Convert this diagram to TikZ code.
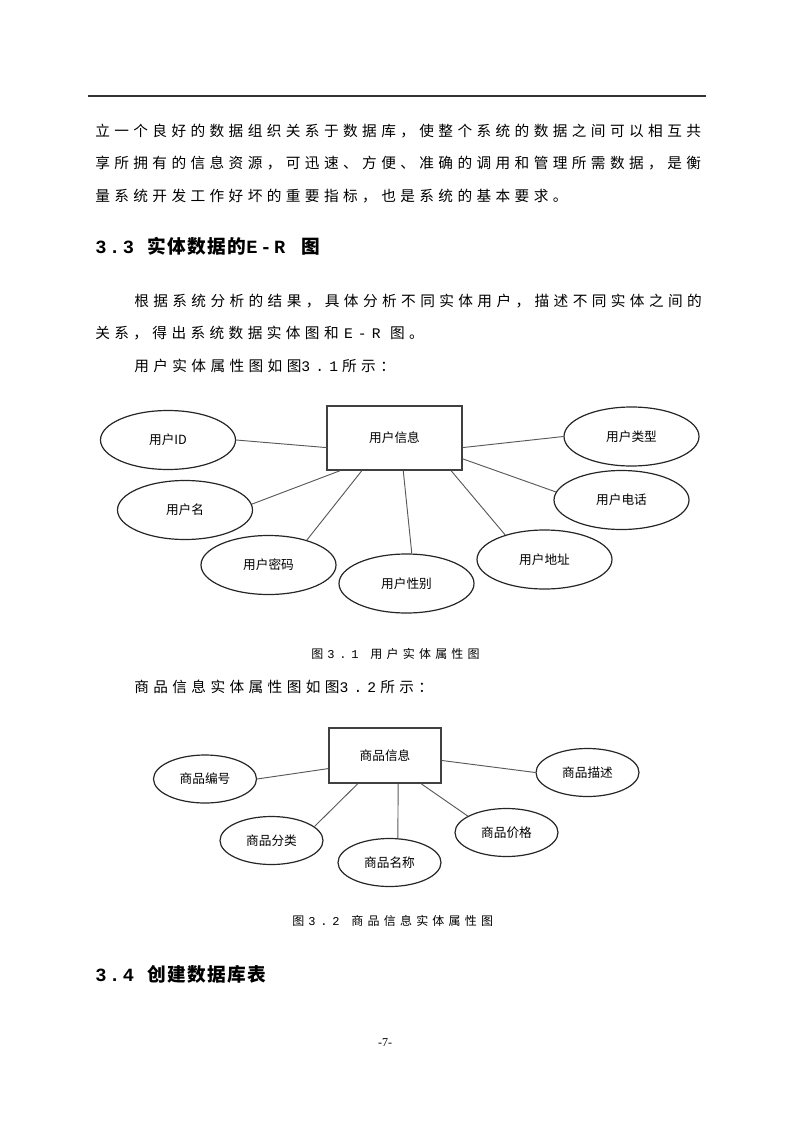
\documentclass[tikz,border=0pt]{standalone}
\usepackage{fontspec}
\usepackage{xcolor}
\usetikzlibrary{shapes.geometric}
\setmainfont{Noto Sans CJK SC}
\newfontfamily\bodyfont{Noto Sans CJK SC}[LetterSpace=30]
\newfontfamily\capfont{Noto Sans CJK SC}[LetterSpace=35]
\newfontfamily\headfont{Noto Sans CJK SC}[LetterSpace=7]
\newfontfamily\bodyascii{Liberation Mono}[LetterSpace=35]
\newfontfamily\capascii{Liberation Mono}[LetterSpace=40]
\newfontfamily\headascii{Liberation Mono}[LetterSpace=14]
\newfontfamily\erfont{Noto Sans CJK SC}
\newfontfamily\pagefont{Liberation Serif}
\newcommand\asc{}
\tikzset{
  body/.style={anchor=west,inner sep=0pt,font=\let\asc\bodyascii\bodyfont\fontsize{11pt}{13pt}\selectfont},
  figcaption/.style={anchor=west,inner sep=0pt,font=\let\asc\capascii\capfont\fontsize{9pt}{11pt}\selectfont},
  head/.style={anchor=west,inner sep=0pt,font=\let\asc\headascii\headfont\bfseries\fontsize{14pt}{16pt}\selectfont},
  entity/.style={rectangle,draw=black!75,line width=1pt,inner sep=0pt,font=\erfont\fontsize{9.5pt}{11pt}\selectfont},
  attr/.style={ellipse,draw=black!85,line width=0.9pt,inner sep=0pt,minimum width=101.25pt,minimum height=44.25pt,font=\erfont\fontsize{9.5pt}{11pt}\selectfont},
  attrs/.style={attr,minimum width=77.25pt,minimum height=36pt},
  link/.style={draw=black!65,line width=0.7pt}
}
\begin{document}
\begin{tikzpicture}[x=0.75pt,y=-0.75pt]
\useasboundingbox (0,0) rectangle (794,1123);
\coordinate (ruleL) at (88,96); \coordinate (ruleR) at (706,96);
\draw[black!80,line width=0.8pt] (ruleL) -- (ruleR);

\node[body] (p1a) at (95,131) {立一个良好的数据组织关系于数据库，使整个系统的数据之间可以相互共};
\node[body] (p1b) at (95,163.5) {享所拥有的信息资源，可迅速、方便、准确的调用和管理所需数据，是衡};
\node[body] (p1c) at (95,196) {量系统开发工作好坏的重要指标，也是系统的基本要求。};
\node[head] (h33) at (95,246) {{\asc 3.3 }实体数据的{\asc E-R }\kern2pt图};
\node[body] (p2a) at (134,301) {根据系统分析的结果，具体分析不同实体用户，描述不同实体之间的};
\node[body] (p2b) at (95,333.5) {关系，得出系统数据实体图和\kern4pt{\asc E-R}\kern7pt图。};
\node[body] (p2c) at (134,366) {用户实体属性图如图{\asc 3.1}\kern3pt所示：};

\node[entity,minimum width=101.25pt,minimum height=48pt] (user) at (394.5,438) {用户信息};
\node[attr] (uid) at (168,440) {用户ID};
\node[attr] (uname) at (185,510) {用户名};
\node[attr] (upwd) at (268.5,565) {用户密码};
\node[attr] (usex) at (406.5,583.5) {用户性别};
\node[attr] (uaddr) at (544.5,559.5) {用户地址};
\node[attr] (utel) at (621.5,500) {用户电话};
\node[attr] (utype) at (631.5,436.5) {用户类型};
\draw[link] (uid.east) -- (user.188) (uname.5) -- (user.211) (upwd.33) -- (user.225)
  (usex.80) -- (user.285) (uaddr.148) -- (user.330) (utel.173) -- (user.343) (utype.west) -- (user.352);
\node[figcaption] (c31) at (311,654) {图\kern3pt{\asc 3.1 }用户实体属性图};

\node[body] (p3) at (134,687) {商品信息实体属性图如图{\asc 3.2}\kern3pt所示：};
\node[entity,minimum width=84pt,minimum height=41.25pt] (goods) at (385,755.5) {商品信息};
\node[attrs] (gno) at (205,779) {商品编号};
\node[attrs] (gcat) at (271.5,840.5) {商品分类};
\node[attrs] (gname) at (389.5,862.5) {商品名称};
\node[attrs] (gprice) at (506.5,832.5) {商品价格};
\node[attrs] (gdesc) at (587.5,772.5) {商品描述};
\draw[link] (gno.east) -- (goods.193) (gcat.18) -- (goods.226) (gname.71) -- (goods.295)
  (gprice.157) -- (goods.322) (gdesc.west) -- (goods.355);
\node[figcaption] (c32) at (292,921) {图\kern3pt{\asc 3.2 }商品信息实体属性图};

\node[head] (h34) at (95,974) {{\asc 3.4 }创建数据库表};
\node[inner sep=0pt,font=\pagefont\fontsize{9pt}{11pt}\selectfont] (pg) at (385,1043) {-7-};
\end{tikzpicture}
\end{document}
